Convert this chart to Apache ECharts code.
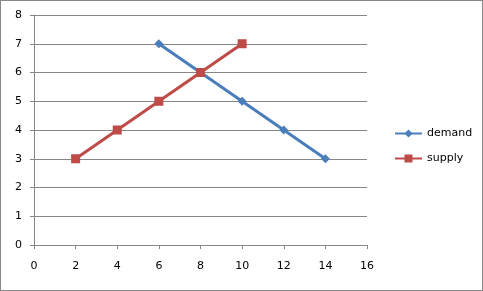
<!DOCTYPE html>
<html><head><meta charset="utf-8">
<script src="https://cdn.jsdelivr.net/npm/echarts@6/dist/echarts.min.js"></script>
<style>html,body{margin:0;padding:0;background:#fff}#c{width:483px;height:291px;box-sizing:border-box;border:1px solid #888}</style>
</head><body><div id="c"></div>
<script>
const demandX = [6, 8, 10, 12, 14];
const demandY = [7, 6, 5, 4, 3];
const supplyX = [2, 4, 6, 8, 10];
const supplyY = [3, 4, 5, 6, 7];
const seriesNames = ['demand', 'supply'];

const chart = echarts.init(document.getElementById('c'), null, {renderer: 'canvas'});
const font = 'DejaVu Sans, Verdana, sans-serif';
chart.setOption({
  animation: false,
  grid: {left: 33, top: 14, width: 333, height: 230},
  xAxis: {type: 'value', min: 0, max: 16, interval: 2,
    axisLine: {show: true, lineStyle: {color: '#868686', width: 1}},
    axisTick: {show: true, length: 4, lineStyle: {color: '#868686'}},
    axisLabel: {color: '#000', fontFamily: font, fontSize: 11, margin: 16},
    splitLine: {show: false}},
  yAxis: {type: 'value', min: 0, max: 8, interval: 1,
    axisLine: {show: true, lineStyle: {color: '#868686', width: 1}},
    axisTick: {show: true, length: 4, lineStyle: {color: '#868686'}},
    axisLabel: {color: '#000', fontFamily: font, fontSize: 11, margin: 12},
    splitLine: {show: true, lineStyle: {color: '#868686', width: 1}}},
  legend: {orient: 'vertical', left: 393, top: 127, padding: 0, itemGap: 14, itemWidth: 27, itemHeight: 10,
    textStyle: {fontFamily: font, fontSize: 11, color: '#000'},
    data: seriesNames},
  series: [
    {name: seriesNames[0], type: 'line', data: demandX.map((x, i) => [x, demandY[i]]),
      symbol: 'diamond', symbolSize: 9,
      lineStyle: {color: '#4A7EBB', width: 3}, itemStyle: {color: '#4A7EBB'}},
    {name: seriesNames[1], type: 'line', data: supplyX.map((x, i) => [x, supplyY[i]]),
      symbol: 'rect', symbolSize: 9,
      lineStyle: {color: '#BE4B48', width: 3}, itemStyle: {color: '#BE4B48'}}
  ]
});
</script></body></html>
